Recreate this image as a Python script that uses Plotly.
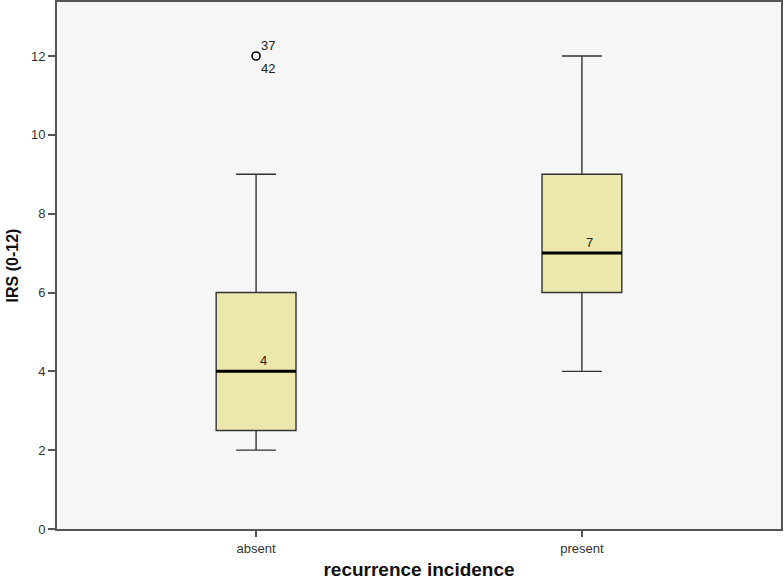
import plotly.graph_objects as go

categories = ["absent", "present"]
lower_whisker = [2, 4]
q1_vals = [2.5, 6]
medians = [4, 7]
q3_vals = [6, 9]
upper_whisker = [9, 12]
outlier_values = [12]
outlier_group = [0]
outlier_labels = [("37", "42")]
y_ticks = [0, 2, 4, 6, 8, 10, 12]

box_fill = "#ECE8AB"
box_width = 0.245
xpos = list(range(len(categories)))

fig = go.Figure()
fig.add_trace(go.Box(
    x=xpos, q1=q1_vals, median=medians, q3=q3_vals,
    lowerfence=lower_whisker, upperfence=upper_whisker,
    fillcolor=box_fill, line=dict(color="#333333", width=1.4),
    width=box_width, whiskerwidth=0.5, boxpoints=False, showlegend=False,
    hoverinfo="skip",
))
# thicker median lines
for i, m in enumerate(medians):
    fig.add_trace(go.Scatter(
        x=[xpos[i] - box_width / 2, xpos[i] + box_width / 2], y=[m, m],
        mode="lines", line=dict(color="black", width=3), showlegend=False,
        hoverinfo="skip",
    ))
    fig.add_annotation(x=xpos[i] + 0.022, y=m, text=str(m), showarrow=False,
                       yanchor="bottom", yshift=1, font=dict(size=13, color="#222"))
# outliers
fig.add_trace(go.Scatter(
    x=[xpos[g] for g in outlier_group], y=outlier_values, mode="markers",
    marker=dict(symbol="circle-open", size=8, color="black", line=dict(width=1.6)),
    showlegend=False, hoverinfo="skip",
))
for g, v, labs in zip(outlier_group, outlier_values, outlier_labels):
    fig.add_annotation(x=xpos[g], y=v, text=labs[0], showarrow=False, xanchor="left",
                       xshift=3, yshift=11, font=dict(size=13, color="#222"))
    fig.add_annotation(x=xpos[g], y=v, text=labs[1], showarrow=False, xanchor="left",
                       xshift=3, yshift=-12, font=dict(size=13, color="#222"))

fig.update_layout(
    width=784, height=582,
    margin=dict(l=57, r=3, t=2, b=53),
    paper_bgcolor="white", plot_bgcolor="#F6F6F6",
    font=dict(family="Liberation Sans, Arial, sans-serif", size=13, color="#333"),
)
fig.update_xaxes(
    range=[-0.611, 1.611], tickvals=xpos, ticktext=categories, automargin=False,
    showgrid=False, zeroline=False, showline=True, linecolor="#555", linewidth=2,
    mirror=True, ticks="outside", ticklen=6, tickcolor="#555", tickwidth=1.5,
    title=dict(text="<b>recurrence incidence</b>", font=dict(size=19, color="#111"), standoff=8),
)
fig.update_yaxes(
    range=[0, 13.37], tickvals=y_ticks, automargin=False,
    showgrid=False, zeroline=False, showline=True, linecolor="#555", linewidth=2,
    mirror=True, ticks="outside", ticklen=7, tickcolor="#555", tickwidth=1.5,
    title=dict(text="<b>IRS (0-12)</b>", font=dict(size=16, color="#111"), standoff=8),
)
fig.write_html("out.html", config={"displayModeBar": False},
               post_script="document.body.style.margin='0';")
